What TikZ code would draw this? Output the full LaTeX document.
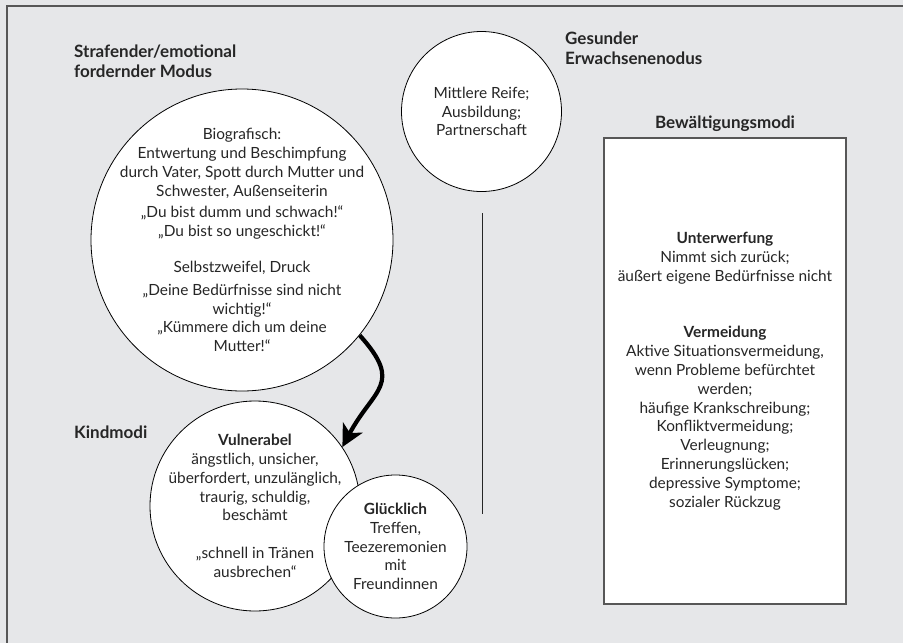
\documentclass[tikz,border=0pt]{standalone}
\usepackage{fontspec}
\setmainfont{Lato}
\usepackage{tikz}
\usetikzlibrary{positioning}
\usetikzlibrary{arrows.meta}
\definecolor{bggray}{HTML}{E6E7E9}
\definecolor{inkgray}{HTML}{262626}
\definecolor{framegray}{HTML}{575757}
\newcommand{\bodyfont}{\fontsize{15.4}{18.8}\selectfont}
\newcommand{\headfont}{\fontsize{17}{19.2}\selectfont\bfseries}
\tikzset{
	modecircle/.style={circle, draw=black, line width=0.8pt, fill=white, inner sep=0pt},
	modetext/.style={inner sep=0pt, align=center, text=inkgray, font=\bodyfont},
	modebox/.style={rectangle, draw=framegray, line width=1.3pt, fill=white, inner sep=0pt, align=center, text=inkgray, font=\bodyfont},
	modehead/.style={inner sep=0pt, align=left, text=inkgray, font=\headfont},
}

\begin{document}
\begin{tikzpicture}[x=1pt,y=1pt]
		\fill [bggray] (0,0) rectangle (903,-643);
		\useasboundingbox (0,0) rectangle (903,-643);
		\draw [framegray, line width=2pt] (7,-643) -- (7,-5.5) -- (903,-5.5);
		% modes as circles
		\node [modecircle, minimum size=302pt] at (242,-240) (strafe) {};
		\node [modetext] at (strafe.center) (strafetext) {Biografisch:\\ Entwertung und Beschimpfung\\ durch Vater, Spott durch Mutter und\\ Schwester, Außenseiterin\\[3pt] „Du bist dumm und schwach!“\\ „Du bist so ungeschickt!“\\[17pt] Selbstzweifel, Druck\\[4pt] „Deine Bedürfnisse sind nicht\\ wichtig!“\\ „Kümmere dich um deine\\ Mutter!“};
		\node [modecircle, minimum size=160pt] at (481.5,-111.5) (gesund) {};
		\node [modetext] at (gesund.center) (gesundtext) {Mittlere Reife;\\ Ausbildung;\\ Partnerschaft};
		\node [modecircle, minimum size=210pt] at (255,-506) (vulner) {};
		\node [modetext] at (vulner.center) (vulnertext) {\textbf{Vulnerabel}\\ ängstlich, unsicher,\\ überfordert, unzulänglich,\\ traurig, schuldig,\\ beschämt\\[19pt] „schnell in Tränen\\ ausbrechen“};
		\node [modecircle, minimum size=143pt] at (395.5,-546.5) (glueck) {};
		\node [modetext] at (glueck.center) (gluecktext) {\textbf{Glücklich}\\ Treffen,\\ Teezeremonien\\ mit\\ Freundinnen};
		\node [modebox, minimum width=242pt, minimum height=466pt] at (725,-371) (bewaelt) {\textbf{Unterwerfung}\\ Nimmt sich zurück;\\ äußert eigene Bedürfnisse nicht\\[38pt] \textbf{Vermeidung}\\ Aktive Situationsvermeidung,\\ wenn Probleme befürchtet\\ werden;\\ häufige Krankschreibung;\\ Konfliktvermeidung;\\ Verleugnung;\\ Erinnerungslücken;\\ depressive Symptome;\\ sozialer Rückzug};
		% headings
		\node [modehead, anchor=north west] at (74,-45) (strafehead) {Strafender/emotional\\ fordernder Modus};
		\node [modehead, anchor=north west] at (565,-32) (gesundhead) {Gesunder\\ Erwachsenenodus};
		\node [modehead, above=6pt of bewaelt] (bewaelthead) {Bewältigungsmodi};
		\node [modehead, anchor=base west] at (74,-438) (kindhead) {Kindmodi};
		% divider and arrow
		\coordinate (divtop) at (482,-213);
		\coordinate (divbot) at (482,-514);
		\draw [inkgray, line width=1pt] (divtop) -- (divbot);
		\draw [black, line width=4.2pt, -{Stealth[length=22pt, width=22pt, inset=6pt]}] (strafe.-39) to [out=-48, in=62, looseness=1.5] (vulner.34);
		\end{tikzpicture}
\end{document}
